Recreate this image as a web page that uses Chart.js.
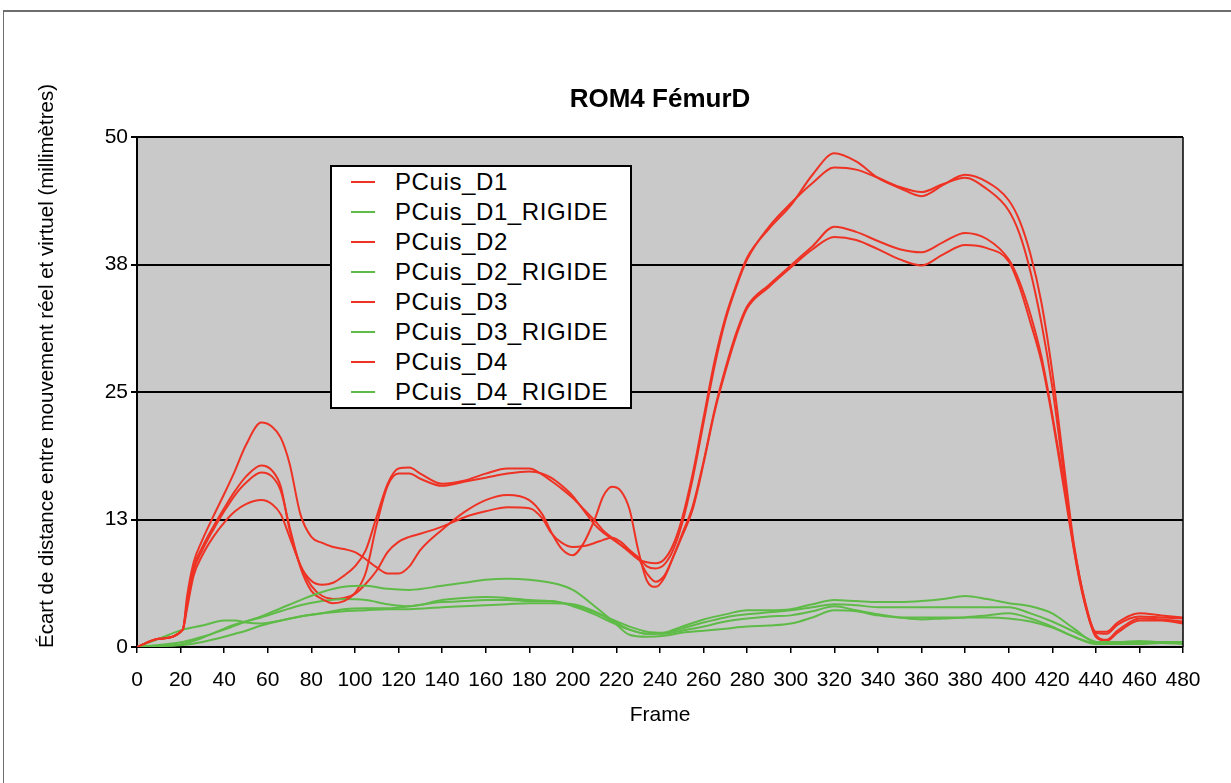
<!DOCTYPE html>
<html>
<head>
<meta charset="utf-8">
<script src="https://cdn.jsdelivr.net/npm/chart.js@4.4.1/dist/chart.umd.min.js"></script>
<style>
  body { margin: 0; background: #fff; }
  #wrap { position: relative; width: 1231px; height: 783px; }
  #frame { position: absolute; left: 3px; top: 10px; width: 1228px; height: 773px;
           border-top: 2px solid #6e6e6e; border-left: 1px solid #6e6e6e; box-sizing: border-box; }
  #legend { position: absolute; left: 330px; top: 165px; width: 298px; height: 240px;
            border: 2px solid #000; background: #fff;
            font: 24px "Liberation Sans", Arial, sans-serif; letter-spacing: 0.6px; color: #000; }
  #legend .row { position: relative; height: 30px; line-height: 30px; padding-left: 63px; white-space: nowrap; }
  #legend .swatch { position: absolute; left: 19px; top: 14px; width: 24px; height: 2px; }
</style>
</head>
<body>
<div id="wrap">
  <div id="frame"></div>
  <canvas id="romChart"></canvas>
  <div id="legend"></div>
</div>
<script>
// frames
var redFrames = [0,10,21,23,26,30,35,40,45,50,57,62,66,70,75,80,85,90,95,100,105,110,115,120,125,130,140,150,160,170,180,186,190,195,200,205,210,214,218,222,226,230,234,238,242,246,250,255,260,265,270,275,280,290,300,310,320,330,340,350,360,370,380,390,400,405,410,415,420,425,430,435,440,445,450,460,470,480];
var greenFrames = [0,10,21,30,40,45,50,57,66,75,85,95,105,115,125,140,150,160,170,180,190,200,210,218,226,234,242,250,260,270,280,290,300,310,320,330,340,350,360,370,380,390,400,410,420,430,440,450,460,470,480];

var pcuisD1 = [0,0.8,1.7,5.0,8.3,10.5,12.8,15.0,17.3,19.8, 22.0,21.6,20.5,18.0,13.0,10.8,10.2,9.8,9.6,9.3, 8.6,7.8,7.2,7.2,7.9,9.5,11.5,13.2,14.4,14.9, 14.4,13.0,11.3,9.6,9.0,10.2,12.5,14.8,15.7,15.3, 13.5,9.5,6.5,5.9,6.8,8.8,11.0,13.8,18.2,23.2, 27.3,30.8,33.4,35.5,37.4,39.3,41.2,40.7,39.8,39.0, 38.7,39.7,40.6,40.0,38.0,35.8,32.6,28.5,22.8,16.5, 9.8,4.4,1.2,0.7,1.6,2.8,2.7,2.5];
var pcuisD2 = [0,0.8,1.7,4.5,7.8,9.8,11.8,13.6,15.3,16.7, 17.8,17.3,15.7,11.5,8.0,6.5,6.1,6.3,7.0,7.9, 9.5,12.8,16.0,17.5,17.6,17.0,16.0,16.3,17.0,17.5, 17.5,16.9,16.3,15.5,14.6,13.5,12.4,11.4,10.7,10.0, 9.3,8.6,8.3,8.2,8.6,10.0,12.5,17.0,22.5,28.0, 32.3,35.5,38.2,41.0,43.3,46.3,48.4,47.6,46.0,45.0, 44.2,45.3,46.3,45.6,43.8,41.8,38.5,33.8,27.0,18.5, 10.0,4.5,1.5,1.5,2.4,3.3,3.1,2.9];
var pcuisD3 = [0,0.8,1.7,4.2,7.5,9.5,11.5,13.3,14.9,16.1, 17.1,16.7,15.3,11.8,7.8,5.5,4.7,4.3,4.5,5.3, 7.3,12.0,15.8,17.0,17.0,16.5,15.8,16.2,16.6,17.0, 17.2,17.0,16.6,15.8,14.8,13.4,12.0,11.2,10.6,10.0, 9.4,8.8,7.9,7.7,8.1,9.5,12.0,16.5,22.0,27.5, 32.0,35.3,38.0,41.2,43.5,45.5,47.0,46.8,46.0,45.1, 44.6,45.4,46.0,44.9,42.8,40.5,36.8,31.8,25.5,17.5, 9.5,4.2,1.4,1.3,2.2,3.0,2.9,2.8];
var pcuisD4 = [0,0.8,1.7,3.8,7.0,9.0,10.8,12.2,13.3,14.0, 14.4,14.0,13.0,10.8,8.0,6.0,5.0,4.7,4.8,5.2, 6.2,7.5,9.3,10.3,10.8,11.1,11.8,12.7,13.3,13.7, 13.6,12.6,11.2,10.2,9.8,9.9,10.2,10.5,10.7,10.3, 9.5,8.7,7.2,6.4,7.0,8.8,10.8,13.5,18.0,23.0, 27.0,30.5,33.2,35.3,37.2,39.0,40.2,39.9,39.0,38.0, 37.4,38.5,39.4,39.1,37.8,35.3,31.8,28.0,22.5,16.0, 9.5,4.3,1.0,0.6,1.4,2.6,2.6,2.3];

var rigideD1 = [0,0.2,0.5,1.0,1.7,2.1,2.5,3.0,3.8,4.6, 5.4,5.9,6.0,5.7,5.6,6.0,6.3,6.6,6.7,6.6, 6.3,5.6,4.0,2.6,1.2,1.0,1.1,1.4,1.6,1.8, 2.0,2.1,2.3,2.9,3.6,3.5,3.1,2.9,2.9,2.9, 2.9,2.9,2.8,2.5,1.9,1.0,0.4,0.4,0.5,0.5, 0.4];
var rigideD2 = [0,0.8,1.7,2.1,2.6,2.6,2.4,2.3,2.6,3.0, 3.3,3.7,3.8,3.8,4.0,4.4,4.5,4.6,4.6,4.5, 4.5,4.0,3.2,2.4,1.7,1.3,1.4,2.0,2.7,3.2, 3.6,3.6,3.7,4.2,4.6,4.5,4.4,4.4,4.5,4.7, 5.0,4.7,4.3,4.0,3.3,1.8,0.5,0.5,0.6,0.5, 0.5];
var rigideD3 = [0,0.1,0.3,0.9,1.8,2.2,2.5,2.9,3.5,4.1, 4.5,4.7,4.6,4.2,4.0,4.6,4.8,4.9,4.8,4.6, 4.5,4.1,3.4,2.7,2.0,1.5,1.4,1.8,2.4,2.9, 3.2,3.4,3.6,3.9,4.2,4.1,3.9,3.9,3.9,3.9, 3.9,3.9,3.9,3.3,2.5,1.5,0.5,0.3,0.3,0.4, 0.3];
var rigideD4 = [0,0.1,0.2,0.5,1.0,1.3,1.6,2.1,2.6,3.0, 3.3,3.5,3.6,3.7,3.7,3.9,4.0,4.1,4.2,4.3, 4.3,4.2,3.5,2.6,1.7,1.3,1.3,1.6,2.0,2.5, 2.8,3.0,3.1,3.5,4.0,3.6,3.2,2.9,2.7,2.8, 2.9,3.1,3.3,2.8,2.0,1.0,0.3,0.3,0.4,0.4, 0.4];

var seriesLabels = ['PCuis_D1','PCuis_D1_RIGIDE','PCuis_D2','PCuis_D2_RIGIDE','PCuis_D3','PCuis_D3_RIGIDE','PCuis_D4','PCuis_D4_RIGIDE'];
var yTicks = [0, 12.5, 25, 37.5, 50];
var chartTitle = 'ROM4 FémurD';
var xTitle = 'Frame';
var yTitle = 'Écart de distance entre mouvement réel et virtuel (millimètres)';

var RED = '#ee3224';
var GREEN = '#5fbb47';
var FONT = '"Liberation Sans", Arial, Helvetica, sans-serif';

function pts(frames, vals) {
    return frames.map(function (f, i) { return { x: f, y: vals[i] }; });
}

var seriesData = [
    pts(redFrames, pcuisD1), pts(greenFrames, rigideD1),
    pts(redFrames, pcuisD2), pts(greenFrames, rigideD2),
    pts(redFrames, pcuisD3), pts(greenFrames, rigideD3),
    pts(redFrames, pcuisD4), pts(greenFrames, rigideD4)
];

var datasets = seriesLabels.map(function (lbl, i) {
    var col = i % 2 === 0 ? RED : GREEN;
    return {
        label: lbl,
        data: seriesData[i],
        borderColor: col,
        backgroundColor: col,
        borderWidth: 2,
        pointRadius: 0,
        fill: false,
        cubicInterpolationMode: 'monotone'
    };
});

// grey plot area + thin right edge
var plotBg = {
    id: 'plotBg',
    beforeDraw: function (chart) {
        var a = chart.chartArea, c = chart.ctx;
        c.save();
        c.fillStyle = '#c9c9c9';
        c.fillRect(a.left, a.top, a.right - a.left, a.bottom - a.top);
        c.restore();
    },
    afterDraw: function (chart) {
        var a = chart.chartArea, c = chart.ctx;
        c.save();
        c.strokeStyle = '#000';
        c.lineWidth = 1.5;
        c.beginPath();
        c.moveTo(a.right, a.top);
        c.lineTo(a.right, a.bottom);
        c.stroke();
        // y axis title
        c.translate(47, 366);
        c.rotate(-Math.PI / 2);
        c.font = '20.5px ' + FONT;
        c.fillStyle = '#000';
        c.textAlign = 'center';
        c.textBaseline = 'middle';
        c.fillText(yTitle, 0, 0);
        c.restore();
    }
};

var ctx = document.getElementById('romChart').getContext('2d');
var romChart = new Chart(ctx, {
    type: 'line',
    data: { datasets: datasets },
    options: {
        responsive: true,
        maintainAspectRatio: false,
        animation: false,
        layout: { padding: { left: 0, right: 48, top: 0, bottom: 55 } },
        plugins: {
            legend: { display: false },
            tooltip: { enabled: false },
            title: {
                display: true,
                text: chartTitle,
                fullSize: false,
                color: '#000',
                font: { family: FONT, size: 26, weight: 'bold' },
                padding: { top: 84.4, bottom: 21.4 }
            }
        },
        scales: {
            x: {
                type: 'linear',
                min: 0,
                max: 480,
                afterFit: function (s) { s.height = 81; },
                ticks: {
                    stepSize: 20,
                    autoSkip: false,
                    maxRotation: 0,
                    minRotation: 0,
                    padding: 15,
                    color: '#000',
                    font: { family: FONT, size: 21 }
                },
                grid: { drawOnChartArea: false, drawTicks: true, tickLength: 6, color: '#000', lineWidth: 1.5 },
                border: { color: '#000', width: 2 },
                title: {
                    display: true,
                    text: xTitle,
                    color: '#000',
                    font: { family: FONT, size: 21 },
                    padding: { top: 0, bottom: 0 }
                }
            },
            y: {
                min: 0,
                max: 50,
                afterFit: function (s) { s.width = 137; },
                afterBuildTicks: function (s) { s.ticks = yTicks.map(function (v) { return { value: v }; }); },
                ticks: {
                    padding: 3,
                    color: '#000',
                    font: { family: FONT, size: 21 },
                    callback: function (v) { return Math.round(v); }
                },
                grid: { color: '#000', lineWidth: 2, drawTicks: true, tickLength: 6 },
                border: { color: '#000', width: 2 }
            }
        }
    },
    plugins: [plotBg]
});

// legend box drawn as html, inside the plot like the original
var legendBox = document.getElementById('legend');
romChart.data.datasets.forEach(function (ds) {
    var row = document.createElement('div');
    row.className = 'row';
    var sw = document.createElement('span');
    sw.className = 'swatch';
    sw.style.background = ds.borderColor;
    var txt = document.createElement('span');
    txt.textContent = ds.label;
    row.appendChild(sw);
    row.appendChild(txt);
    legendBox.appendChild(row);
});
</script>
</body>
</html>
